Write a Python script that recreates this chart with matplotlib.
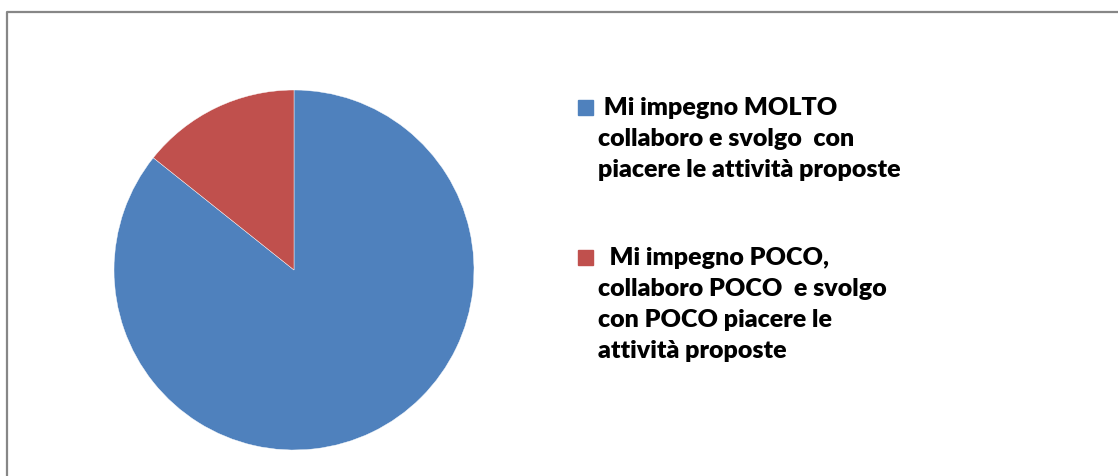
import matplotlib
matplotlib.use("Agg")
import matplotlib.pyplot as plt
from matplotlib.lines import Line2D
from matplotlib.patches import Rectangle

labels = [" Mi impegno MOLTO\ncollaboro e svolgo  con\npiacere le attività proposte",
          "  Mi impegno POCO,\ncollaboro POCO  e svolgo\ncon POCO piacere le\nattività proposte"]
values = [18, 3]
colors = ["#4F81BD", "#C0504D"]

fig = plt.figure(figsize=(11.18, 4.77), dpi=100)
W, H = 1118, 477

# chart frame (left and top edges only visible)
fig.add_artist(Line2D([7 / W, 7 / W, 1.0], [0.0, 1 - 13 / H, 1 - 13 / H],
                      transform=fig.transFigure, color="#878787", lw=1.6))

ax = fig.add_axes([114 / W, 26 / H, 360 / W, 360 / H])
ax.pie(values, colors=colors, startangle=90, counterclock=False,
       wedgeprops=dict(edgecolor="white", linewidth=0.3))
ax.set_xlim(-1, 1)
ax.set_ylim(-1, 1)
ax.set_aspect("equal")
ax.axis("off")

# legend
tops = [101, 251]
for lab, col, top in zip(labels, colors, tops):
    fig.add_artist(Rectangle((578 / W, 1 - (top + 15) / H), 15 / W, 15 / H,
                             transform=fig.transFigure, color=col))
    fig.text(598 / W, 1 - (top - 4) / H, lab, fontsize=18, fontweight="heavy",
             family="Lato", va="top", ha="left", linespacing=1.5)

fig.savefig("out.png", dpi=100)
